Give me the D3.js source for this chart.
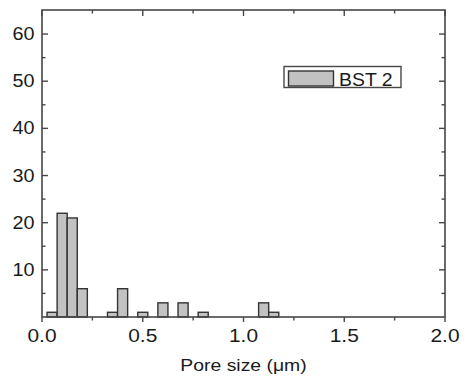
<!DOCTYPE html>
<html>
<head>
<meta charset="utf-8">
<script src="https://cdn.jsdelivr.net/npm/d3@7"></script>
<style>
  html, body { margin: 0; padding: 0; background: #fff; }
  svg { display: block; }
  text { font-family: "Liberation Sans", Arial, Helvetica, sans-serif; fill: #1a1a1a; }
</style>
</head>
<body>
<svg id="chart" width="467" height="380"></svg>
<script>
// Pore size histogram (bin centres in µm, counts per bin)
const binCenters = [0.05, 0.10, 0.15, 0.20, 0.35, 0.40, 0.50, 0.60, 0.70, 0.80, 1.10, 1.15];
const counts     = [1,    22,   21,   6,    1,    6,    1,    3,    3,    1,    3,    1];
const binWidth = 0.05;
const seriesName = "BST 2";
const xTicks = [0, 0.5, 1.0, 1.5, 2.0];
const xMinor = [0.25, 0.75, 1.25, 1.75];
const yTicks = [10, 20, 30, 40, 50, 60];
const yMinor = [5, 15, 25, 35, 45, 55];
const xTitle = "Pore size (\u03bcm)";

const svg = d3.select("#chart");
const L = 42, R = 445, T = 10, B = 317;
const sx = 1.1; // horizontal text stretch

const x = d3.scaleLinear().domain([0, 2]).range([L, R]);
const y = d3.scaleLinear().domain([0, 65.1]).range([B, T]);

const lineColor = "#474747";

// bars
svg.append("g").selectAll("rect")
  .data(binCenters.map((c, i) => ({ c, v: counts[i] })))
  .join("rect")
  .attr("x", d => x(d.c - binWidth / 2))
  .attr("width", d => x(d.c + binWidth / 2) - x(d.c - binWidth / 2))
  .attr("y", d => y(d.v))
  .attr("height", d => y(0) - y(d.v))
  .attr("fill", "#c2c2c2")
  .attr("stroke", "#333")
  .attr("stroke-width", 1.4);

// tick marks on all four sides
function ticks(g, vals, len, side) {
  g.selectAll(null).data(vals).join("line")
    .attr("x1", d => side === "left" ? L : side === "right" ? R : x(d))
    .attr("x2", d => side === "left" ? L + len : side === "right" ? R - len : x(d))
    .attr("y1", d => side === "top" ? T : side === "bottom" ? B : y(d))
    .attr("y2", d => side === "top" ? T + len : side === "bottom" ? B + len : y(d))
    .attr("stroke", lineColor).attr("stroke-width", 1.4);
}
const tg = svg.append("g");
ticks(tg, yTicks, 6, "left");
ticks(tg, yMinor, 3.5, "left");
ticks(tg, yTicks, 6, "right");
ticks(tg, yMinor, 3.5, "right");
ticks(tg, xTicks, 6, "top");
ticks(tg, xMinor, 3.5, "top");
ticks(tg, xTicks, 5, "bottom");
ticks(tg, xMinor, 3.5, "bottom");

// frame
svg.append("rect")
  .attr("x", L).attr("y", T).attr("width", R - L).attr("height", B - T)
  .attr("fill", "none").attr("stroke", lineColor).attr("stroke-width", 1.6);

// y tick labels
svg.append("g").selectAll("text").data(yTicks).join("text")
  .attr("transform", d => `translate(${L - 7.5},${y(d) + 6}) scale(${sx},1)`)
  .attr("text-anchor", "end")
  .style("font-size", "18px")
  .text(d => d);

// x tick labels
svg.append("g").selectAll("text").data(xTicks).join("text")
  .attr("transform", d => `translate(${x(d)},${B + 25}) scale(${sx},1)`)
  .attr("text-anchor", "middle")
  .style("font-size", "19px")
  .text(d => d3.format(".1f")(d));

// x axis title
svg.append("text")
  .attr("transform", `translate(${(L + R) / 2},${371}) scale(${sx + 0.04},1)`)
  .attr("text-anchor", "middle")
  .style("font-size", "17px")
  .text(xTitle);

// legend
const lg = svg.append("g");
lg.append("rect")
  .attr("x", 284).attr("y", 66.5).attr("width", 117).attr("height", 21)
  .attr("fill", "#fff").attr("stroke", lineColor).attr("stroke-width", 1.4);
lg.append("rect")
  .attr("x", 288.5).attr("y", 71).attr("width", 45).attr("height", 15)
  .attr("fill", "#c2c2c2").attr("stroke", "#333").attr("stroke-width", 1.4);
lg.append("text")
  .attr("transform", `translate(339,85.5) scale(1.08,1)`)
  .style("font-size", "18px")
  .text(seriesName);
</script>
</body>
</html>
